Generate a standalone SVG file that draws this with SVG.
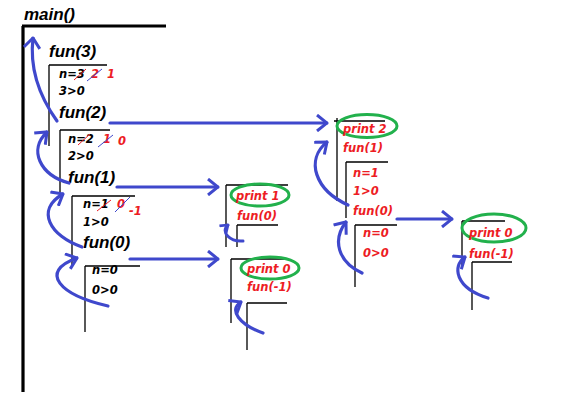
<svg xmlns="http://www.w3.org/2000/svg" width="561" height="404" viewBox="0 0 561 404">
<defs>
<style>
.frame{fill:none;stroke:#000;stroke-width:1.3}
.thick{fill:none;stroke:#000;stroke-width:3.2}
.big{font-family:"Liberation Sans",Arial,sans-serif;font-weight:bold;font-style:italic;font-size:17px;fill:#000}
.sm{font-family:"DejaVu Sans","Noto Sans",sans-serif;font-weight:bold;font-style:italic;font-size:11.5px;fill:#000}
.rs{font-family:"DejaVu Sans","Noto Sans",sans-serif;font-weight:bold;font-style:italic;font-size:11.5px;fill:#ed1c24}
.ring{fill:none;stroke:#22b14c;stroke-width:3}
.arr{fill:none;stroke:#3f48cc;stroke-width:3.2;stroke-linecap:round;marker-end:url(#ah)}
.arrs{fill:none;stroke:#3f48cc;stroke-width:3;stroke-linecap:round;marker-end:url(#ahs)}
.sr{stroke:#ed1c24;stroke-width:1}
.sb{stroke:#3f48cc;stroke-width:1}
</style>
<marker id="ah" viewBox="0 0 12 18" refX="11" refY="9" markerWidth="12" markerHeight="18" markerUnits="userSpaceOnUse" orient="auto">
<path d="M1,1 L11,9 L1,17" fill="none" stroke="#3f48cc" stroke-width="3"/>
</marker>
<marker id="ahs" viewBox="0 0 9 12" refX="8" refY="6" markerWidth="9" markerHeight="12" markerUnits="userSpaceOnUse" orient="auto">
<path d="M1,1 L8,6 L1,11" fill="none" stroke="#3f48cc" stroke-width="2.6"/>
</marker>
</defs>
<rect width="561" height="404" fill="#fff"/>

<g id="main">
<text class="big" x="24" y="20">main()</text>
<path class="thick" d="M22,26 H166 M23,26 V392"/>
</g>

<g id="fun3">
<text class="big" x="49" y="57">fun(3)</text>
<path class="frame" d="M49,65 H107 M49,65 V146"/>
<text class="sm" x="59" y="78">n=3</text>
<line class="sr" x1="74" y1="80" x2="86" y2="69"/>
<text class="rs" x="91" y="78">2</text>
<line class="sb" x1="87" y1="81" x2="102" y2="69"/>
<text class="rs" x="107" y="78">1</text>
<text class="sm" x="59" y="95">3&gt;0</text>
<text class="big" x="59" y="118">fun(2)</text>
</g>

<g id="fun2">
<path class="frame" d="M60,130 H110 M60,130 V196"/>
<text class="sm" x="68" y="143">n=2</text>
<line class="sr" x1="78" y1="145" x2="90" y2="134"/>
<text class="rs" x="103" y="143">1</text>
<line class="sb" x1="98" y1="147" x2="113" y2="135"/>
<text class="rs" x="118" y="145">0</text>
<text class="sm" x="68" y="160">2&gt;0</text>
<text class="big" x="68" y="183">fun(1)</text>
</g>

<g id="fun1">
<path class="frame" d="M72,196 H135 M72,196 V265"/>
<text class="sm" x="83" y="208">n=1</text>
<line class="sr" x1="97" y1="211" x2="111" y2="200"/>
<text class="rs" x="117" y="208">0</text>
<line class="sb" x1="115" y1="212" x2="130" y2="197"/>
<text class="rs" x="129" y="215">-1</text>
<text class="sm" x="83" y="226">1&gt;0</text>
<text class="big" x="83" y="248">fun(0)</text>
</g>

<g id="fun0">
<path class="frame" d="M85,266 H140 M85,266 V332"/>
<text class="sm" x="92" y="274">n=0</text>
<text class="sm" x="92" y="294">0&gt;0</text>
</g>

<g id="print1">
<path class="frame" d="M226,185 H288 M226,185 V247 M237,225 H278 M237,225 V247"/>
<ellipse class="ring" cx="260" cy="195" rx="29" ry="11"/>
<text class="rs" x="236" y="200">print 1</text>
<text class="rs" x="237" y="220">fun(0)</text>
</g>

<g id="print0a">
<path class="frame" d="M231,259 H288 M231,259 V323 M247,303 H287 M247,303 V350"/>
<ellipse class="ring" cx="270" cy="268" rx="29" ry="11"/>
<text class="rs" x="247" y="273">print 0</text>
<text class="rs" x="247" y="291">fun(-1)</text>
</g>

<g id="print2">
<path class="frame" d="M337,121 H385 M337,118 V201 M334,121 H340 M346,162 H388 M346,162 V218 M355,225 H397 M355,225 V287"/>
<ellipse class="ring" cx="367" cy="126" rx="30" ry="11.5"/>
<text class="rs" x="343" y="133">print 2</text>
<text class="rs" x="343" y="152">fun(1)</text>
<text class="rs" x="353" y="177">n=1</text>
<text class="rs" x="353" y="195">1&gt;0</text>
<text class="rs" x="353" y="215">fun(0)</text>
<text class="rs" x="363" y="237">n=0</text>
<text class="rs" x="363" y="257">0&gt;0</text>
</g>

<g id="print0b">
<path class="frame" d="M462,221 H505 M462,221 V268 M472,262 H512 M472,262 V310"/>
<ellipse class="ring" cx="494" cy="228" rx="32" ry="14"/>
<text class="rs" x="469" y="237">print 0</text>
<text class="rs" x="469" y="258">fun(-1)</text>
</g>

<g id="connectors">
<path class="arr" d="M57,121 C42,100 29,72 33,38"/>
<path class="arr" d="M69,183 C40,175 28,150 47,132"/>
<path class="arr" d="M82,247 C50,236 35,210 63,194"/>
<path class="arr" d="M108,306 C60,295 38,272 77,258"/>
<path class="arr" d="M110,123 H327"/>
<path class="arr" d="M117,187 H218"/>
<path class="arr" d="M130,259 H218"/>
<path class="arr" d="M397,219 H452"/>
<path class="arr" d="M348,205 C315,190 305,160 327,142"/>
<path class="arr" d="M362,273 C338,262 332,240 346,222"/>
<path class="arr" d="M488,298 C455,288 452,266 465,257"/>
<path class="arrs" d="M243,241 C230,242 220,232 228,225"/>
<path class="arr" d="M263,333 C240,325 228,310 241,302"/>
</g>
</svg>
